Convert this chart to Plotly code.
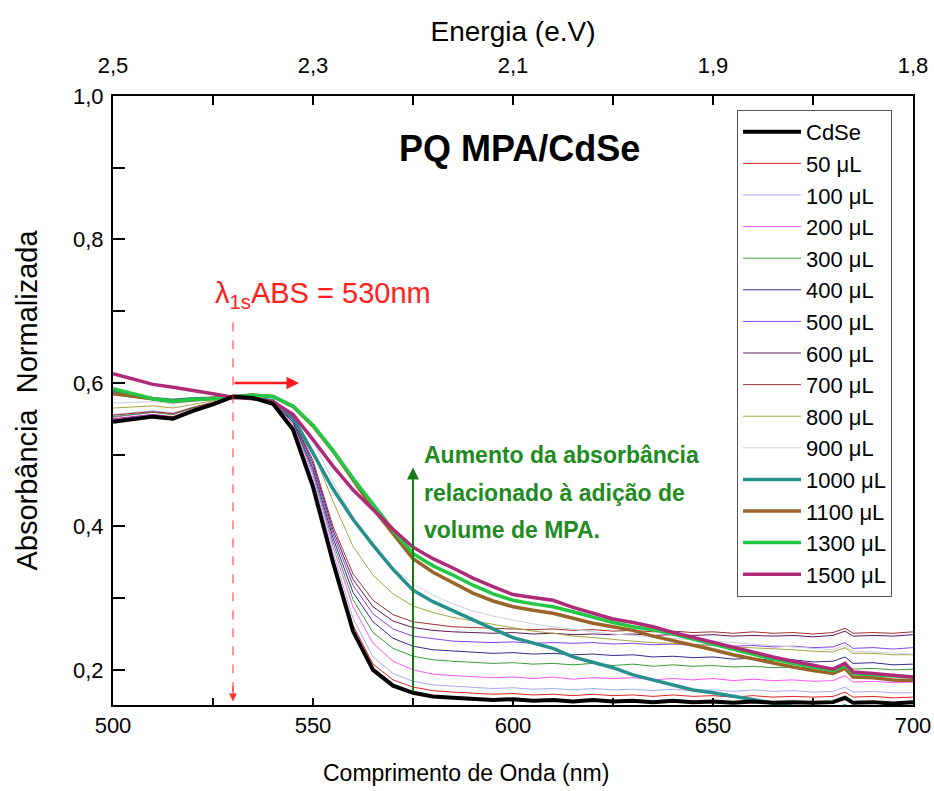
import plotly.graph_objects as go

wavelength = [500, 505, 510, 515, 520, 525, 530, 535, 540, 545,
              550, 555, 560, 565, 570, 575, 580, 585, 590, 595,
              600, 605, 610, 615, 620, 625, 630, 635, 640, 645,
              650, 655, 660, 665, 670, 675, 680,
              683, 685, 690, 695, 700]

cdse = [.546, .549, .553, .550, .561, .570, .581, .579, .571, .535,
        .455, .350, .254, .200, .178, .168, .163, .161, .160, .158,
        .159, .157, .158, .156, .158, .156, .157, .155, .157, .155,
        .156, .154, .156, .154, .155, .154, .155,
        .161, .154, .155, .153, .155]
v50 = [.550, .553, .556, .553, .563, .571, .580, .578, .570, .537,
       .460, .356, .262, .208, .186, .176, .171, .169, .168, .166,
       .167, .165, .166, .164, .166, .164, .165, .163, .165, .163,
       .164, .162, .164, .162, .163, .162, .163,
       .169, .162, .163, .161, .162]
v100 = [.556, .558, .561, .558, .566, .573, .580, .579, .571, .540,
        .466, .364, .272, .218, .195, .184, .179, .177, .176, .174,
        .175, .173, .174, .172, .174, .172, .173, .171, .173, .171,
        .172, .170, .172, .170, .171, .169, .170,
        .176, .169, .170, .168, .168]
v200 = [.552, .555, .559, .556, .565, .572, .581, .580, .572, .543,
        .472, .372, .288, .237, .212, .200, .194, .192, .191, .189,
        .190, .188, .190, .187, .189, .188, .189, .186, .188, .186,
        .188, .185, .187, .185, .186, .184, .185,
        .192, .183, .184, .182, .183]
v300 = [.553, .556, .559, .556, .565, .572, .580, .579, .572, .545,
        .476, .378, .298, .252, .230, .219, .214, .212, .211, .209,
        .210, .208, .209, .207, .209, .206, .208, .205, .207, .205,
        .206, .204, .205, .203, .204, .202, .203,
        .209, .201, .202, .200, .201]
v400 = [.548, .551, .555, .552, .562, .571, .580, .579, .572, .546,
        .480, .384, .308, .267, .244, .233, .228, .226, .225, .223,
        .224, .222, .223, .221, .222, .220, .221, .218, .219, .217,
        .218, .215, .216, .213, .214, .211, .212,
        .218, .209, .210, .207, .208]
v500 = [.549, .552, .556, .552, .563, .571, .580, .579, .572, .548,
        .484, .390, .318, .278, .257, .247, .243, .240, .239, .238,
        .239, .237, .238, .237, .238, .236, .237, .235, .236, .234,
        .235, .233, .234, .232, .233, .231, .232,
        .238, .230, .231, .229, .231]
v600 = [.547, .550, .554, .551, .562, .571, .580, .579, .572, .549,
        .488, .395, .326, .288, .268, .259, .255, .253, .252, .251,
        .252, .250, .251, .249, .250, .249, .250, .248, .249, .248,
        .249, .247, .248, .247, .248, .246, .248,
        .254, .247, .248, .247, .249]
v700 = [.555, .557, .560, .557, .566, .573, .580, .579, .572, .550,
        .492, .400, .334, .297, .277, .267, .263, .260, .259, .258,
        .258, .256, .257, .255, .256, .254, .255, .253, .254, .252,
        .253, .251, .253, .251, .252, .250, .252,
        .258, .251, .252, .251, .253]
v800 = [.565, .566, .568, .565, .570, .575, .580, .580, .574, .555,
        .505, .435, .372, .332, .306, .289, .280, .273, .268, .263,
        .258, .254, .251, .247, .245, .242, .240, .238, .237, .235,
        .234, .232, .231, .229, .228, .226, .225,
        .231, .223, .223, .221, .221]
v900 = [.572, .573, .574, .571, .574, .577, .580, .580, .575, .560,
        .520, .462, .412, .372, .342, .320, .304, .292, .282, .275,
        .269, .264, .260, .256, .253, .250, .248, .246, .244, .242,
        .240, .238, .236, .234, .232, .230, .228,
        .234, .226, .225, .223, .222]
v1000 = [.588, .582, .578, .576, .578, .579, .580, .580, .575, .552,
         .502, .452, .410, .374, .340, .311, .295, .282, .270, .257,
         .245, .237, .230, .218, .210, .203, .193, .186, .178, .172,
         .168, .163, .158, .153, .149, .146, .143,
         .150, .142, .141, .140, .139]
v1100 = [.585, .582, .578, .574, .576, .578, .581, .583, .581, .567,
         .540, .505, .465, .425, .390, .355, .336, .321, .307, .296,
         .288, .283, .279, .272, .265, .260, .255, .247, .241, .234,
         .228, .221, .215, .209, .204, .199, .195,
         .202, .190, .189, .186, .185]
v1300 = [.592, .585, .578, .574, .577, .578, .581, .583, .581, .568,
         .541, .506, .467, .430, .395, .362, .345, .332, .318, .306,
         .297, .292, .288, .281, .273, .266, .260, .256, .250, .243,
         .236, .229, .221, .215, .209, .204, .199,
         .206, .195, .193, .191, .190]
v1500 = [.613, .605, .598, .594, .590, .585, .580, .578, .574, .556,
         .521, .484, .451, .423, .396, .371, .355, .342, .328, .316,
         .305, .301, .297, .287, .279, .271, .266, .260, .252, .245,
         .239, .232, .225, .218, .212, .206, .201,
         .209, .197, .195, .192, .190]

series_names = ["CdSe", "50 μL", "100 μL", "200 μL", "300 μL", "400 μL",
                "500 μL", "600 μL", "700 μL", "800 μL", "900 μL",
                "1000 μL", "1100 μL", "1300 μL", "1500 μL"]
series_values = [cdse, v50, v100, v200, v300, v400, v500, v600, v700,
                 v800, v900, v1000, v1100, v1300, v1500]
series_colors = ["#000000", "#e02424", "#a9a9f5", "#ff55ff", "#3c9c3c",
                 "#2e2e8a", "#8a44e6", "#5e1a5e", "#a23030", "#a6a640",
                 "#c6d0dc", "#26908e", "#9a6428", "#22c844", "#b02a7a"]
series_widths = [4, 1, 1, 1, 1, 1, 1, 1, 1, 1, 1, 3.5, 3.5, 3.5, 3.5]

energy_labels = ["2,5", "2,3", "2,1", "1,9", "1,8"]
wl_ticks = [500, 550, 600, 650, 700]

FONT = "Liberation Sans, Arial, sans-serif"

fig = go.Figure()

# draw order: thin curves, thick curves, then CdSe on top
draw_order = list(range(1, 15)) + [0]
for i in draw_order:
    fig.add_trace(go.Scatter(
        x=wavelength, y=series_values[i], mode="lines",
        name=series_names[i], legendrank=i + 1,
        line=dict(color=series_colors[i], width=series_widths[i]),
    ))

# invisible trace for top (energy) axis
fig.add_trace(go.Scatter(x=[wavelength[0], wavelength[-1]], y=[0.5, 0.5],
                         xaxis="x2", mode="lines", line=dict(width=0),
                         showlegend=False, hoverinfo="skip", opacity=0))

# red dashed vertical line at 530 nm
fig.add_shape(type="line", x0=530, x1=530, y0=0.17, y1=0.69,
              xref="x", yref="y",
              line=dict(color="#ff3030", width=1, dash="dash"))
fig.add_annotation(x=530, y=0.156, ax=530, ay=0.18, xref="x", yref="y",
                   axref="x", ayref="y", text="", showarrow=True,
                   arrowhead=2, arrowsize=1.3, arrowwidth=1.2,
                   arrowcolor="#ff3030", standoff=0)
# red horizontal arrow
fig.add_annotation(x=546.5, y=0.6, ax=530, ay=0.6, xref="x", yref="y",
                   axref="x", ayref="y", text="", showarrow=True,
                   arrowhead=2, arrowsize=1, arrowwidth=2.5,
                   arrowcolor="#ff1a1a", standoff=0)
# green vertical arrow
fig.add_annotation(x=575, y=0.482, ax=575, ay=0.168, xref="x", yref="y",
                   axref="x", ayref="y", text="", showarrow=True,
                   arrowhead=2, arrowsize=1.2, arrowwidth=2,
                   arrowcolor="#1a7a1a", standoff=0)

fig.add_annotation(x=601.5, y=0.927, xref="x", yref="y",
                   text="<b>PQ MPA/CdSe</b>", showarrow=False,
                   font=dict(family=FONT, size=36, color="black"))
fig.add_annotation(x=525, y=0.722, xref="x", yref="y", xanchor="left",
                   text="λ<sub>1s</sub>ABS = 530nm", showarrow=False,
                   font=dict(family=FONT, size=29, color="#ff2020"))
green_lines = ["Aumento da absorbância", "relacionado à adição de",
               "volume de MPA."]
for k, (txt, yy) in enumerate(zip(green_lines, [0.4997, 0.4467, 0.3951])):
    fig.add_annotation(x=577.3, y=yy, xref="x", yref="y", xanchor="left",
                       text="<b>" + txt + "</b>", showarrow=False,
                       font=dict(family=FONT, size=23, color="#218a21"))

# bottom axis title (offset to the left as in the original)
fig.add_annotation(x=0.441, y=-0.112, xref="paper", yref="paper",
                   xanchor="center", yanchor="middle",
                   text="Comprimento de Onda (nm)", showarrow=False,
                   font=dict(family=FONT, size=23, color="black"))

fig.update_layout(
    width=934, height=791,
    margin=dict(l=113, r=21, t=96, b=86),
    paper_bgcolor="white", plot_bgcolor="white",
    separators=",.",
    font=dict(family=FONT, color="black"),
    showlegend=True,
    legend=dict(x=0.78, y=0.977, xanchor="left", yanchor="top",
                bgcolor="white", bordercolor="#555555", borderwidth=1,
                font=dict(family=FONT, size=22, color="black"),
                itemwidth=58, tracegroupgap=0),
    xaxis=dict(range=[500, 700], tickvals=wl_ticks, automargin=False,
               ticks="inside", ticklen=7, tickwidth=1.5, tickcolor="black",
               minor=dict(dtick=25, ticks="inside", ticklen=7,
                          tickwidth=1.5, tickcolor="black"),
               showline=True, linecolor="black", linewidth=2,
               showgrid=False, zeroline=False,
               tickfont=dict(family=FONT, size=22)),
    xaxis2=dict(range=[500, 700], overlaying="x", side="top", anchor="y",
                automargin=False,
                tickvals=wl_ticks, ticktext=energy_labels,
                ticks="inside", ticklen=9, tickwidth=1.5, tickcolor="black",
                minor=dict(dtick=25, ticks="inside", ticklen=9,
                           tickwidth=1.5, tickcolor="black"),
                showline=True, linecolor="black", linewidth=2,
                showgrid=False, zeroline=False, ticklabelstandoff=12,
                tickfont=dict(family=FONT, size=22),
                title=dict(text="Energia (e.V)",
                           font=dict(family=FONT, size=28), standoff=3)),
    yaxis=dict(range=[0.151, 1.0], dtick=0.2, tick0=0, tickformat=".1f",
               automargin=False,
               ticks="inside", ticklen=12, tickwidth=1.5, tickcolor="black",
               minor=dict(dtick=0.1, ticks="inside", ticklen=12,
                          tickwidth=1.5, tickcolor="black"),
               showline=True, linecolor="black", linewidth=2, mirror=True,
               showgrid=False, zeroline=False, ticklabelstandoff=3,
               tickfont=dict(family=FONT, size=22),
               title=dict(text="Absorbância  Normalizada",
                          font=dict(family=FONT, size=29), standoff=27)),
)

fig.write_html("out.html")
